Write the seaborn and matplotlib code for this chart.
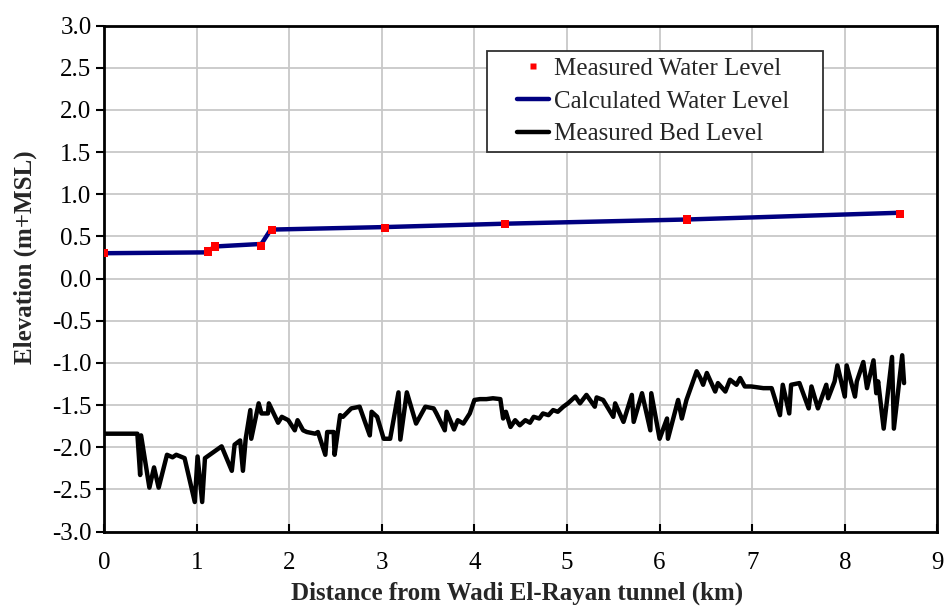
import matplotlib
matplotlib.use("Agg")
import matplotlib.pyplot as plt
from matplotlib.lines import Line2D
from matplotlib.legend_handler import HandlerLine2D
import numpy as np
import seaborn as sns
import pandas as pd

# Measured water level (surveyed points)
wl_meas_x = [0.00, 1.12, 1.20, 1.70, 1.81, 3.03, 4.33, 6.30, 8.60]
wl_meas_y = [0.30, 0.32, 0.38, 0.39, 0.57, 0.60, 0.65, 0.70, 0.77]

# Calculated water level profile
wl_calc_x = [0.00, 1.10, 1.13, 1.20, 1.70, 1.80, 3.03, 4.33, 6.30, 8.60]
wl_calc_y = [0.30, 0.31, 0.33, 0.38, 0.41, 0.58, 0.61, 0.65, 0.70, 0.78]

# Measured bed level along the channel
bed_x = [0.00, 0.30, 0.36, 0.39, 0.40, 0.49, 0.54, 0.59, 0.68, 0.74,
         0.78, 0.87, 0.98, 1.01, 1.06, 1.09, 1.27, 1.38, 1.41, 1.47,
         1.50, 1.53, 1.58, 1.59, 1.67, 1.70, 1.77, 1.78, 1.88, 1.92,
         1.99, 2.06, 2.09, 2.15, 2.19, 2.28, 2.31, 2.39, 2.41, 2.48,
         2.49, 2.55, 2.58, 2.67, 2.76, 2.87, 2.89, 2.95, 3.02, 3.09,
         3.18, 3.20, 3.27, 3.30, 3.37, 3.41, 3.47, 3.56, 3.59, 3.68,
         3.70, 3.78, 3.82, 3.88, 3.95, 4.00, 4.06, 4.13, 4.20, 4.28,
         4.31, 4.34, 4.39, 4.44, 4.49, 4.55, 4.60, 4.64, 4.70, 4.74,
         4.80, 4.85, 4.90, 4.96, 5.01, 5.09, 5.14, 5.21, 5.30, 5.32,
         5.39, 5.50, 5.52, 5.61, 5.70, 5.72, 5.81, 5.90, 5.91, 6.00,
         6.08, 6.09, 6.20, 6.24, 6.29, 6.40, 6.44, 6.47, 6.51, 6.60,
         6.63, 6.71, 6.76, 6.83, 6.87, 6.92, 6.99, 7.12, 7.21, 7.30,
         7.33, 7.40, 7.42, 7.51, 7.61, 7.64, 7.71, 7.80, 7.82, 7.89,
         7.92, 8.00, 8.02, 8.11, 8.13, 8.20, 8.24, 8.31, 8.34, 8.36,
         8.42, 8.51, 8.53, 8.62, 8.64]
bed_y = [-1.84, -1.84, -1.84, -2.33, -1.86, -2.48, -2.24, -2.48, -2.09, -2.12,
         -2.09, -2.13, -2.65, -2.11, -2.65, -2.13, -1.99, -2.28, -1.97, -1.92,
         -2.28, -1.90, -1.56, -1.90, -1.48, -1.60, -1.60, -1.48, -1.71, -1.64,
         -1.68, -1.80, -1.68, -1.80, -1.82, -1.84, -1.82, -2.09, -1.82, -1.82,
         -2.09, -1.62, -1.64, -1.54, -1.52, -1.86, -1.58, -1.64, -1.90, -1.90,
         -1.35, -1.91, -1.35, -1.46, -1.72, -1.64, -1.52, -1.54, -1.60, -1.80,
         -1.58, -1.79, -1.68, -1.72, -1.60, -1.44, -1.43, -1.43, -1.42, -1.43,
         -1.66, -1.58, -1.76, -1.68, -1.74, -1.68, -1.71, -1.64, -1.66, -1.60,
         -1.62, -1.56, -1.58, -1.52, -1.48, -1.40, -1.48, -1.38, -1.52, -1.41,
         -1.44, -1.64, -1.48, -1.70, -1.38, -1.70, -1.36, -1.80, -1.36, -1.90,
         -1.66, -1.90, -1.44, -1.66, -1.44, -1.10, -1.18, -1.26, -1.12, -1.34,
         -1.24, -1.34, -1.20, -1.26, -1.18, -1.28, -1.28, -1.30, -1.30, -1.62,
         -1.26, -1.60, -1.26, -1.24, -1.54, -1.28, -1.54, -1.26, -1.42, -1.22,
         -1.03, -1.40, -1.03, -1.40, -1.22, -0.99, -1.30, -0.97, -1.36, -1.22,
         -1.78, -0.93, -1.78, -0.91, -1.24]

x_ticks = [0, 1, 2, 3, 4, 5, 6, 7, 8, 9]
y_ticks = [-3.0, -2.5, -2.0, -1.5, -1.0, -0.5, 0.0, 0.5, 1.0, 1.5, 2.0, 2.5, 3.0]

sns.set_style("white")
plt.rcParams["font.family"] = ["Liberation Serif", "DejaVu Serif"]

NAVY = "#000080"
RED = "#ff0000"


class ShortLineHandler(HandlerLine2D):
    """Legend handle whose line only covers the right part of the handle box."""

    def get_xdata(self, legend, xdescent, ydescent, width, height, fontsize):
        x0 = -xdescent + 0.42 * width
        x1 = -xdescent + width
        return np.array([x0, x1]), np.array([(x0 + x1) / 2.0])


fig = plt.figure(figsize=(9.44, 6.06), dpi=100)
ax = fig.add_axes([0.1102, 0.1229, 0.8828, 0.835])

bed_df = pd.DataFrame({"x": bed_x, "y": bed_y})
calc_df = pd.DataFrame({"x": wl_calc_x, "y": wl_calc_y})
meas_df = pd.DataFrame({"x": wl_meas_x, "y": wl_meas_y})

sns.lineplot(data=bed_df, x="x", y="y", sort=False, estimator=None,
             color="black", linewidth=3.2, ax=ax, zorder=3)
sns.lineplot(data=calc_df, x="x", y="y", sort=False, estimator=None,
             color=NAVY, linewidth=3.2, ax=ax, zorder=4)
sns.scatterplot(data=meas_df, x="x", y="y", marker="s", s=34,
                color=RED, edgecolor="none", ax=ax, zorder=5)

ax.set_xlim(0, 9)
ax.set_ylim(-3, 3)
ax.set_xticks(x_ticks)
ax.set_xticklabels([str(t) for t in x_ticks])
ax.set_yticks(y_ticks)
ax.set_yticklabels([f"{t:.1f}" for t in y_ticks])

ax.grid(True, color="#c8c8c8", linewidth=1.3)
ax.set_axisbelow(True)
for sp in ax.spines.values():
    sp.set_visible(True)
    sp.set_color("black")
    sp.set_linewidth(2.0)

ax.tick_params(axis="x", direction="in", length=6, width=1.5,
               labelsize=18, pad=15, colors="black", bottom=True, top=False)
ax.tick_params(axis="y", direction="out", length=6, width=1.5,
               labelsize=18, pad=3, colors="black", left=True, right=False)

ax.set_xlabel("Distance from Wadi El-Rayan tunnel (km)", fontsize=18,
              fontweight="bold")
ax.set_ylabel("Elevation (m+MSL)", fontsize=18, fontweight="bold")
ax.xaxis.set_label_coords(0.496, -0.098)
ax.yaxis.set_label_coords(-0.081, 0.5425)

handles = [
    Line2D([], [], linestyle="none", marker="s", markersize=5,
           markerfacecolor=RED, markeredgecolor="none"),
    Line2D([], [], color=NAVY, linewidth=3.2),
    Line2D([], [], color="black", linewidth=3.2),
]
labels = ["Measured Water Level", "Calculated Water Level", "Measured Bed Level"]
leg = ax.legend(handles, labels, loc="upper left",
                bbox_to_anchor=(0.4598, 0.70, 0.4034, 0.2496), mode="expand",
                borderaxespad=0, fontsize=18, frameon=True, fancybox=False,
                handlelength=2.22, handletextpad=0.2, labelspacing=0.41,
                borderpad=0.25,
                handler_map={Line2D: ShortLineHandler()})
leg.get_frame().set_edgecolor("#303030")
leg.get_frame().set_linewidth(1.3)
leg.get_frame().set_facecolor("white")
leg.get_frame().set_alpha(1.0)

fig.savefig("out.png", dpi=100)
